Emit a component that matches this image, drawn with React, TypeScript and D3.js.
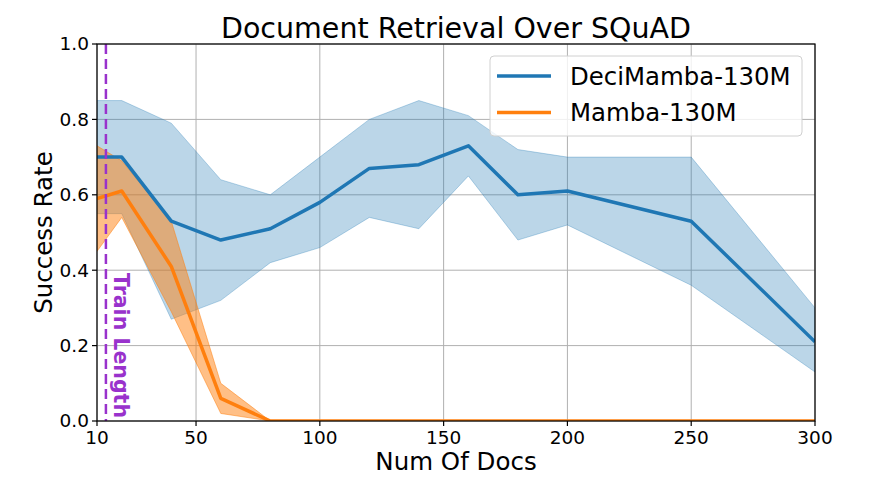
import * as d3 from "d3";

const numDocs = [10, 20, 40, 60, 80, 100, 120, 140, 160, 180, 200, 250, 300];

const deciMean = [0.70, 0.70, 0.53, 0.48, 0.51, 0.58, 0.67, 0.68, 0.73, 0.60, 0.61, 0.53, 0.21];
const deciUpper = [0.85, 0.85, 0.79, 0.64, 0.60, 0.70, 0.80, 0.85, 0.81, 0.72, 0.70, 0.70, 0.30];
const deciLower = [0.55, 0.55, 0.27, 0.32, 0.42, 0.46, 0.54, 0.51, 0.65, 0.48, 0.52, 0.36, 0.13];

const mambaMean = [0.59, 0.61, 0.41, 0.06, 0.0, 0.0, 0.0, 0.0, 0.0, 0.0, 0.0, 0.0, 0.0];
const mambaUpper = [0.73, 0.69, 0.53, 0.10, 0.0, 0.0, 0.0, 0.0, 0.0, 0.0, 0.0, 0.0, 0.0];
const mambaLower = [0.45, 0.54, 0.29, 0.02, 0.0, 0.0, 0.0, 0.0, 0.0, 0.0, 0.0, 0.0, 0.0];

const xTicks = [10, 50, 100, 150, 200, 250, 300];
const yTicks = [0, 0.2, 0.4, 0.6, 0.8, 1.0];
const trainLength = 13.6;

const blue = "#1f77b4";
const orange = "#ff7f0e";
const purple = "#9932cc";
const font = "'DejaVu Sans', sans-serif";

export default function App() {
  const width = 883;
  const height = 492;
  const m = { left: 97, right: 815, top: 44, bottom: 421 };

  const x = d3.scaleLinear().domain([10, 300]).range([m.left, m.right]);
  const y = d3.scaleLinear().domain([0, 1]).range([m.bottom, m.top]);

  const band = (lo: number[], hi: number[]) =>
    d3.area<number>()
      .x((d) => x(d))
      .y0((_, i) => y(lo[i]))
      .y1((_, i) => y(hi[i]))(numDocs) || "";
  const line = (vals: number[]) =>
    d3.line<number>()
      .x((d) => x(d))
      .y((_, i) => y(vals[i]))(numDocs) || "";

  const legend = [
    { label: "DeciMamba-130M", color: blue },
    { label: "Mamba-130M", color: orange },
  ];

  return (
    <svg width={width} height={height} style={{ position: "absolute", left: 0, top: 0 }} fontFamily={font}>
      <rect width={width} height={height} fill="white" />
      <defs>
        <clipPath id="plot">
          <rect x={m.left} y={m.top} width={m.right - m.left} height={m.bottom - m.top} />
        </clipPath>
      </defs>

      {/* grid */}
      {xTicks.map((t) => (
        <line key={"gx" + t} x1={x(t)} x2={x(t)} y1={m.top} y2={m.bottom} stroke="#b0b0b0" strokeWidth={1} />
      ))}
      {yTicks.map((t) => (
        <line key={"gy" + t} x1={m.left} x2={m.right} y1={y(t)} y2={y(t)} stroke="#b0b0b0" strokeWidth={1} />
      ))}

      <g clipPath="url(#plot)">
        <path d={band(deciLower, deciUpper)} fill={blue} fillOpacity={0.3} stroke={blue} strokeOpacity={0.3} />
        <path d={band(mambaLower, mambaUpper)} fill={orange} fillOpacity={0.5} stroke={orange} strokeOpacity={0.5} />
        <path d={line(deciMean)} fill="none" stroke={blue} strokeWidth={3.5} strokeLinejoin="round" />
        <path d={line(mambaMean)} fill="none" stroke={orange} strokeWidth={3.5} strokeLinejoin="round" />
        <line x1={x(trainLength)} x2={x(trainLength)} y1={m.top} y2={m.bottom} stroke={purple} strokeWidth={2.5} strokeDasharray="10,5" />
      </g>

      <text
        transform={`translate(${x(trainLength) + 8},${m.bottom - 3}) rotate(90)`}
        textAnchor="end"
        fontSize={20.5}
        fontWeight="bold"
        fill={purple}
      >
        Train Length
      </text>

      {/* spines */}
      <rect x={m.left} y={m.top} width={m.right - m.left} height={m.bottom - m.top} fill="none" stroke="black" strokeWidth={1.2} />

      {/* ticks */}
      {xTicks.map((t) => (
        <g key={"tx" + t}>
          <line x1={x(t)} x2={x(t)} y1={m.bottom} y2={m.bottom + 5} stroke="black" strokeWidth={1.2} />
          <text x={x(t)} y={m.bottom + 23} textAnchor="middle" fontSize={18.5}>{t}</text>
        </g>
      ))}
      {yTicks.map((t) => (
        <g key={"ty" + t}>
          <line x1={m.left - 5} x2={m.left} y1={y(t)} y2={y(t)} stroke="black" strokeWidth={1.2} />
          <text x={m.left - 8} y={y(t)} dy="0.35em" textAnchor="end" fontSize={18.5}>{d3.format(".1f")(t)}</text>
        </g>
      ))}

      <text x={(m.left + m.right) / 2} y={38} textAnchor="middle" fontSize={28.5}>Document Retrieval Over SQuAD</text>
      <text x={(m.left + m.right) / 2} y={470} textAnchor="middle" fontSize={24.5}>Num Of Docs</text>
      <text transform={`translate(52,${(m.top + m.bottom) / 2}) rotate(-90)`} textAnchor="middle" fontSize={24.5}>Success Rate</text>

      {/* legend */}
      <rect x={490} y={56} width={312} height={80} rx={4} fill="white" fillOpacity={0.8} stroke="#d0d0d0" strokeWidth={1} />
      {legend.map((l, i) => (
        <g key={l.label}>
          <line x1={497} x2={551} y1={76 + i * 36.5} y2={76 + i * 36.5} stroke={l.color} strokeWidth={3.5} />
          <text x={570} y={76 + i * 36.5} dy="0.35em" fontSize={24.4}>{l.label}</text>
        </g>
      ))}
    </svg>
  );
}
